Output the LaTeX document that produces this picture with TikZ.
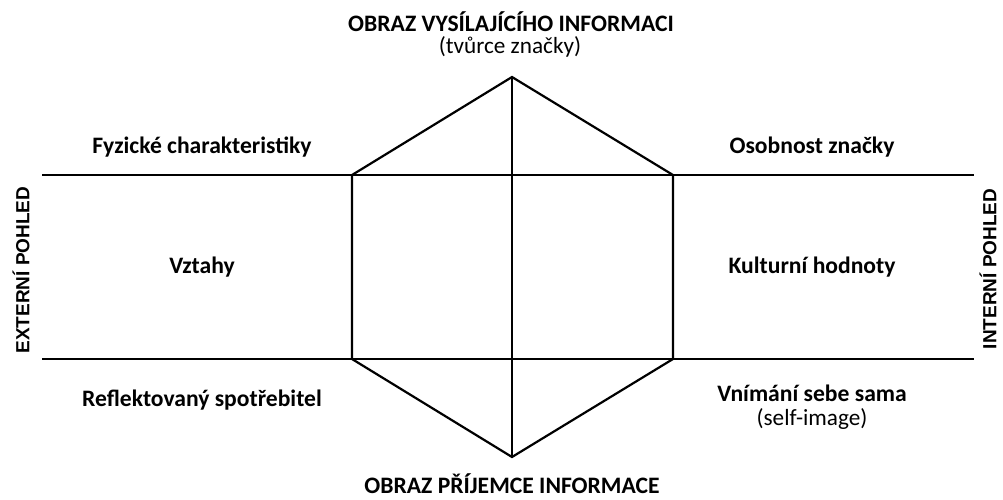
\documentclass[tikz,border=0pt]{standalone}
\usepackage{fontspec}
\setmainfont{Carlito}
\newfontfamily\arialfam{Liberation Sans}
\begin{document}
\begin{tikzpicture}[x=1pt,y=-1pt,
  frame/.style={line width=2.2pt, black, line cap=rect},
  lbl/.style={font=\bfseries\fontsize{23.6}{27}\selectfont, inner sep=0pt, text=black},
  sub/.style={font=\fontsize{23.2}{27}\selectfont, inner sep=0pt, text=black},
  side/.style={font=\arialfam\bfseries\fontsize{19}{22}\selectfont, inner sep=0pt, rotate=90, text=black}]
\useasboundingbox (0,0) rectangle (1003,499);
\begin{scope}
\clip (0,0) rectangle (1003,499);
% coordinates
\coordinate (lineTL) at (43,175);
\coordinate (lineTR) at (973,175);
\coordinate (lineBL) at (43,359);
\coordinate (lineBR) at (973,359);
\coordinate (hTL) at (352,175);
\coordinate (hTR) at (673,175);
\coordinate (hBL) at (352,359);
\coordinate (hBR) at (673,359);
\coordinate (apexT) at (512,77);
\coordinate (apexB) at (512,457);
% lines
\draw[frame] (lineTL) -- (lineTR);
\draw[frame] (lineBL) -- (lineBR);
\draw[frame, line join=miter] (apexT) -- (hTR) -- (hBR) -- (apexB) -- (hBL) -- (hTL) -- cycle;
\draw[frame] (apexT) -- (apexB);
% texts
\node[lbl] (top) at (511,22) {OBRAZ VYSÍLAJÍCÍHO INFORMACI};
\node[sub] (topsub) at (510,47) {(tvůrce značky)};
\node[lbl] (fyz) at (202,147) {Fyzické charakteristiky};
\node[lbl] (osob) at (812,147) {Osobnost značky};
\node[lbl] (vzt) at (202,267) {Vztahy};
\node[lbl] (kult) at (812,267) {Kulturní hodnoty};
\node[lbl] (refl) at (202,400) {Reflektovaný spotřebitel};
\node[lbl] (vnim) at (812,393) {Vnímání sebe sama};
\node[sub] (self) at (812,419) {(self-image)};
\node[lbl] (bot) at (512,484) {OBRAZ PŘÍJEMCE INFORMACE};
\node[side] (ext) at (21,270) {EXTERNÍ POHLED};
\node[side] (int) at (988,269) {INTERNÍ POHLED};
\end{scope}
\end{tikzpicture}
\end{document}
